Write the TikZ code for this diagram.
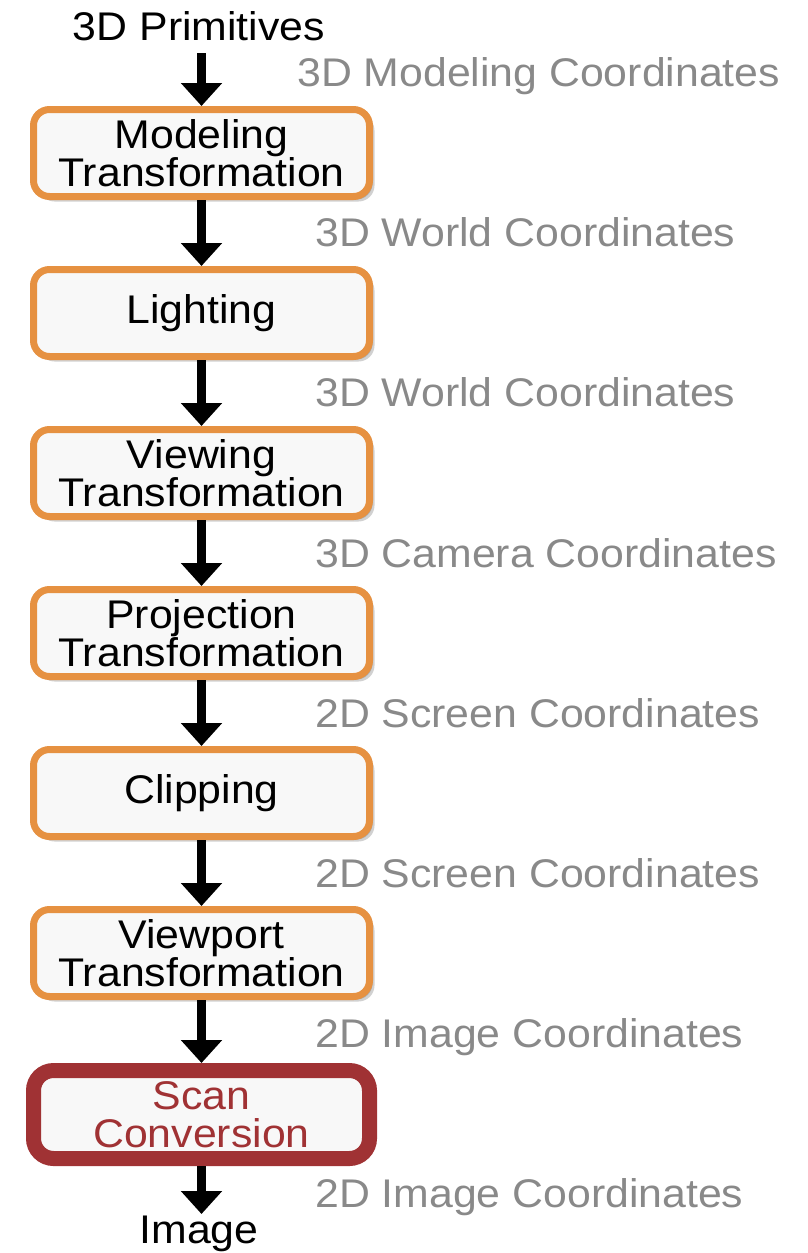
\documentclass[tikz,border=0pt]{standalone}
\usepackage{fontspec}
\setmainfont{Liberation Sans}[FakeStretch=1.07]
\usetikzlibrary{arrows.meta,shadows}
\definecolor{boxorange}{RGB}{230,145,65}
\definecolor{boxred}{RGB}{160,50,52}
\definecolor{labgray}{RGB}{137,137,137}
\definecolor{boxfill}{RGB}{248,248,248}
\tikzset{
  stagebox/.style={draw=boxorange, line width=7pt, fill=boxfill, rounded corners=16pt,
    minimum width=336pt, minimum height=87pt, inner sep=0pt, align=center,
    font=\fontsize{40}{38}\selectfont,
    drop shadow={shadow xshift=5pt, shadow yshift=-5pt, opacity=0.18, fill=black},
    drop shadow={shadow xshift=3pt, shadow yshift=-3pt, opacity=0.18, fill=black}},
  scanbox/.style={stagebox, draw=boxred, line width=15pt, minimum height=88pt, rounded corners=20pt, text=boxred},
  flow/.style={line width=8.5pt, -{Triangle[width=40pt,length=23pt]}},
  coordlab/.style={anchor=base west, text=labgray, inner sep=0pt, font=\fontsize{40}{40}\selectfont},
  endlab/.style={anchor=base, inner sep=0pt, font=\fontsize{40}{40}\selectfont}
}
\begin{document}
\begin{tikzpicture}[x=1pt,y=-1pt]
\useasboundingbox (0,0) rectangle (808,1253);
\node[endlab] (prim) at (199,40) {3D Primitives};
\coordinate (pstart) at (201.5,53);
\node[stagebox] (model) at (201.5,153) {Modeling\\Transformation};
\node[stagebox] (light) at (201.5,313) {Lighting};
\node[stagebox] (view) at (201.5,473) {Viewing\\Transformation};
\node[stagebox] (proj) at (201.5,633) {Projection\\Transformation};
\node[stagebox] (clip) at (201.5,793) {Clipping};
\node[stagebox] (vport) at (201.5,953) {Viewport\\Transformation};
\node[scanbox] (scan) at (201.5,1114.5) {Scan\\Conversion};
\coordinate (iend) at (201.5,1214);
\node[endlab] (img) at (199,1243) {Image};

\draw[flow] (pstart) -- (model.north);
\draw[flow] (model.south) -- (light.north);
\draw[flow] (light.south) -- (view.north);
\draw[flow] (view.south) -- (proj.north);
\draw[flow] (proj.south) -- (clip.north);
\draw[flow] (clip.south) -- (vport.north);
\draw[flow] (vport.south) -- (scan.north);
\draw[flow] (scan.south) -- (iend);

\node[coordlab] (l1) at (297,86) {3D Modeling Coordinates};
\node[coordlab] (l2) at (315,246) {3D World Coordinates};
\node[coordlab] (l3) at (315,406) {3D World Coordinates};
\node[coordlab] (l4) at (315,567) {3D Camera Coordinates};
\node[coordlab] (l5) at (315,727) {2D Screen Coordinates};
\node[coordlab] (l6) at (315,887) {2D Screen Coordinates};
\node[coordlab] (l7) at (315,1047) {2D Image Coordinates};
\node[coordlab] (l8) at (315,1207) {2D Image Coordinates};
\end{tikzpicture}
\end{document}
